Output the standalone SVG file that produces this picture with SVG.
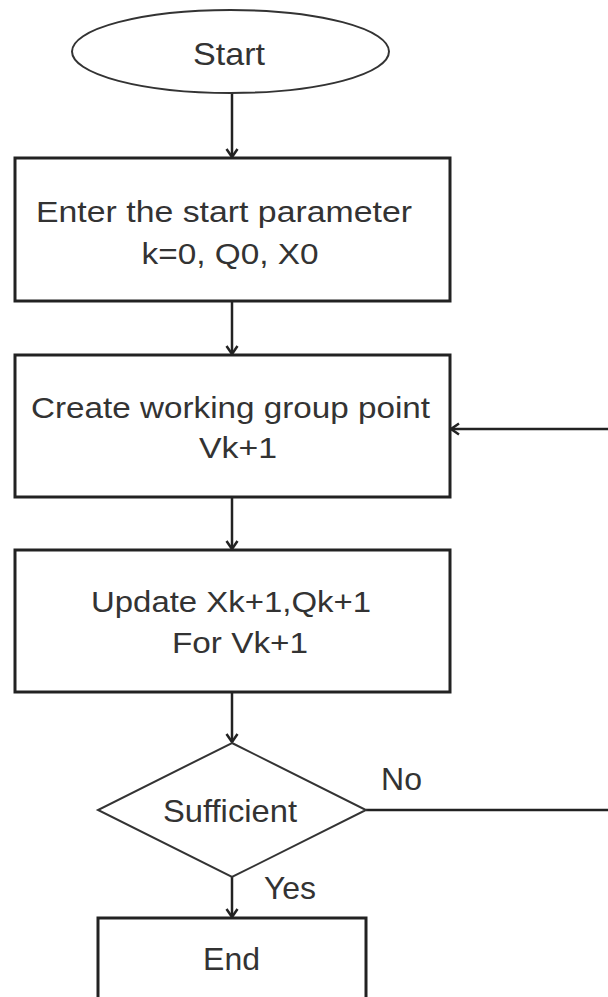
<svg xmlns="http://www.w3.org/2000/svg" width="608" height="997" viewBox="0 0 608 997">
<style>
.t{font-family:"Liberation Sans",Arial,sans-serif;font-size:32px;fill:#333;text-anchor:middle}
.b{font-size:29px}
.box{fill:#fff;stroke:#222;stroke-width:3}
.thin{fill:#fff;stroke:#333;stroke-width:2}
.c{fill:none;stroke:#222;stroke-width:2.5}
</style>
<defs>
<marker id="arr" markerUnits="userSpaceOnUse" markerWidth="16" markerHeight="16" refX="13" refY="8" orient="auto">
<path d="M5,2.5 L13,8 L5,13.5" fill="none" stroke="#222" stroke-width="2.5"/>
</marker>
</defs>
<rect width="608" height="997" fill="#fff"/>
<g id="connectors">
<line class="c" x1="232" y1="93" x2="232" y2="157" marker-end="url(#arr)"/>
<line class="c" x1="232" y1="301" x2="232" y2="354" marker-end="url(#arr)"/>
<line class="c" x1="232" y1="497" x2="232" y2="549" marker-end="url(#arr)"/>
<line class="c" x1="232" y1="692" x2="232" y2="742" marker-end="url(#arr)"/>
<line class="c" x1="232" y1="877" x2="232" y2="917" marker-end="url(#arr)"/>
<path class="c" d="M366,810 H620 V429 H451" marker-end="url(#arr)"/>
</g>
<g id="start">
<ellipse class="thin" cx="230.5" cy="51.5" rx="158.5" ry="41.5"/>
<text class="t" x="229" y="65" textLength="72" lengthAdjust="spacingAndGlyphs">Start</text>
</g>
<g id="enter">
<rect class="box" x="15" y="158" width="435" height="143"/>
<text class="t b" x="224" y="222" textLength="376" lengthAdjust="spacingAndGlyphs">Enter the start parameter</text>
<text class="t b" x="230" y="264" textLength="177" lengthAdjust="spacingAndGlyphs">k=0, Q0, X0</text>
</g>
<g id="create">
<rect class="box" x="15" y="355" width="435" height="142"/>
<text class="t b" x="230.5" y="418" textLength="399" lengthAdjust="spacingAndGlyphs">Create working group point</text>
<text class="t b" x="238" y="458" textLength="78" lengthAdjust="spacingAndGlyphs">Vk+1</text>
</g>
<g id="update">
<rect class="box" x="15" y="550" width="435" height="142"/>
<text class="t b" x="231" y="612" textLength="280" lengthAdjust="spacingAndGlyphs">Update Xk+1,Qk+1</text>
<text class="t b" x="240" y="653" textLength="136" lengthAdjust="spacingAndGlyphs">For Vk+1</text>
</g>
<g id="decision">
<polygon class="thin" points="232,743 366,810 232,877 98,810"/>
<text class="t" x="230" y="822" textLength="134" lengthAdjust="spacingAndGlyphs">Sufficient</text>
<text class="t" x="401.5" y="790">No</text>
<text class="t" x="290" y="899">Yes</text>
</g>
<g id="end">
<rect class="box" x="98" y="918" width="268" height="100"/>
<text class="t" x="231.5" y="970">End</text>
</g>
</svg>
